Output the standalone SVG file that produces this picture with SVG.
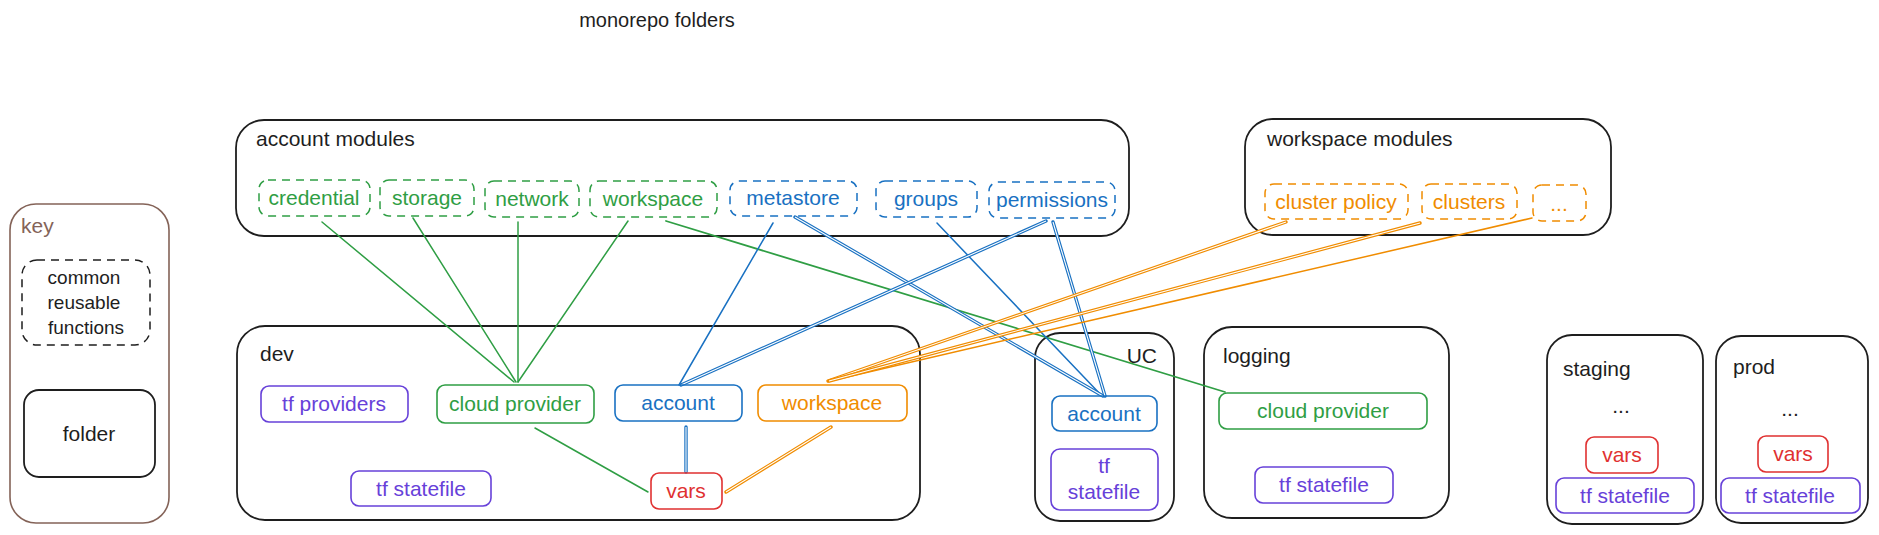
<svg xmlns="http://www.w3.org/2000/svg" width="1879" height="535" viewBox="0 0 1879 535">
<style>
text{font-family:"Liberation Sans",Arial,sans-serif;font-size:21px;fill:#1e1e1e}
.c{text-anchor:middle}
.e{text-anchor:end}
.box{fill:none;stroke:#1e1e1e;stroke-width:1.8}
.dash{fill:none;stroke-width:1.5;stroke-dasharray:8 6}
.nd{fill:none;stroke-width:1.6}
.g{stroke:#2f9e44}.gt{fill:#2f9e44}
.b{stroke:#1971c2}.bt{fill:#1971c2}
.o{stroke:#f08c00}.ot{fill:#f08c00}
.r{stroke:#e03131}.rt{fill:#e03131}
.v{stroke:#6741d9}.vt{fill:#6741d9}
.k{stroke:#1e1e1e}
.ln{fill:none;stroke-width:1.5;stroke-linecap:round}
.dbl{fill:none;stroke-width:3.4;stroke-linecap:round}
.in{fill:none;stroke:#fff;stroke-width:1.1}
</style>

<text id="title" x="657" y="27" class="c" style="font-size:20px">monorepo folders</text>

<g id="key">
<rect x="10" y="204" width="159" height="319" rx="26" fill="none" stroke="#846358" stroke-width="1.6"/>
<text x="21" y="233" style="fill:#846358">key</text>
<g id="key-common">
<rect x="22" y="260" width="128" height="85" rx="15" class="dash k"/>
<text x="84" y="284" class="c" style="font-size:19px">common</text>
<text x="84" y="309" class="c" style="font-size:19px">reusable</text>
<text x="86" y="334" class="c" style="font-size:19px">functions</text>
</g>
<g id="key-folder">
<rect x="24" y="390" width="131" height="87" rx="15" class="box"/>
<text x="89" y="441" class="c">folder</text>
</g>
</g>

<g id="account-modules">
<rect x="236" y="120" width="893" height="116" rx="28" class="box"/>
<text x="256" y="146">account modules</text>
</g>
<g id="workspace-modules">
<rect x="1245" y="119" width="366" height="116" rx="28" class="box"/>
<text x="1267" y="146">workspace modules</text>
</g>
<g id="dev">
<rect x="237" y="326" width="683" height="194" rx="28" class="box"/>
<text x="260" y="361">dev</text>
</g>
<g id="uc">
<rect x="1035" y="333" width="139" height="188" rx="25" class="box"/>
<text x="1157" y="363" class="e">UC</text>
</g>
<g id="logging">
<rect x="1204" y="327" width="245" height="191" rx="28" class="box"/>
<text x="1223" y="363">logging</text>
</g>
<g id="staging">
<rect x="1547" y="335" width="156" height="189" rx="25" class="box"/>
<text x="1563" y="376">staging</text>
<text x="1621" y="413" class="c">...</text>
</g>
<g id="prod">
<rect x="1716" y="336" width="152" height="187" rx="25" class="box"/>
<text x="1733" y="374">prod</text>
<text x="1790" y="416" class="c">...</text>
</g>

<g id="connectors">
<line x1="322" y1="222" x2="514" y2="382" class="ln g"/>
<line x1="413" y1="218" x2="516" y2="382" class="ln g"/>
<line x1="518" y1="222" x2="518" y2="382" class="ln g"/>
<line x1="628" y1="221" x2="518" y2="382" class="ln g"/>
<line x1="666" y1="221" x2="1225" y2="392" class="ln g" style="stroke-width:1.8"/>
<line x1="535" y1="428" x2="648" y2="492" class="ln g"/>

<line x1="773" y1="223" x2="679" y2="385" class="ln b"/>
<line x1="937" y1="223" x2="1102" y2="396" class="ln b"/>
<line x1="795" y1="217" x2="1103" y2="396" class="dbl b"/>
<line x1="795" y1="217" x2="1103" y2="396" class="in"/>
<line x1="1046" y1="221" x2="681" y2="385" class="dbl b"/>
<line x1="1046" y1="221" x2="681" y2="385" class="in"/>
<line x1="1053" y1="222" x2="1105" y2="396" class="dbl b"/>
<line x1="1053" y1="222" x2="1105" y2="396" class="in"/>
<line x1="686" y1="427" x2="686" y2="472" class="dbl b"/>
<line x1="686" y1="427" x2="686" y2="472" class="in"/>

<line x1="1532" y1="218" x2="830" y2="381" class="ln o"/>
<line x1="1286" y1="222" x2="828" y2="381" class="dbl o"/>
<line x1="1286" y1="222" x2="828" y2="381" class="in"/>
<line x1="1420" y1="223" x2="829" y2="381" class="dbl o"/>
<line x1="1420" y1="223" x2="829" y2="381" class="in"/>
<line x1="831" y1="427" x2="726" y2="492" class="dbl o"/>
<line x1="831" y1="427" x2="726" y2="492" class="in"/>
</g>

<g id="credential"><rect x="259" y="180" width="111" height="36" rx="9" class="dash g"/><text x="314" y="205" class="c gt">credential</text></g>
<g id="storage"><rect x="380" y="180" width="94" height="36" rx="9" class="dash g"/><text x="427" y="205" class="c gt">storage</text></g>
<g id="network"><rect x="485" y="181" width="94" height="36" rx="9" class="dash g"/><text x="532" y="206" class="c gt">network</text></g>
<g id="mod-workspace"><rect x="590" y="181" width="127" height="36" rx="9" class="dash g"/><text x="653" y="206" class="c gt">workspace</text></g>
<g id="metastore"><rect x="730" y="181" width="127" height="35" rx="9" class="dash b"/><text x="793" y="205" class="c bt">metastore</text></g>
<g id="groups"><rect x="876" y="181" width="101" height="36" rx="9" class="dash b"/><text x="926" y="206" class="c bt">groups</text></g>
<g id="permissions"><rect x="989" y="182" width="126" height="36" rx="9" class="dash b"/><text x="1052" y="207" class="c bt">permissions</text></g>

<g id="cluster-policy"><rect x="1265" y="184" width="143" height="35" rx="9" class="dash o"/><text x="1336" y="209" class="c ot">cluster policy</text></g>
<g id="clusters"><rect x="1422" y="184" width="95" height="35" rx="9" class="dash o"/><text x="1469" y="209" class="c ot">clusters</text></g>
<g id="mod-more"><rect x="1533" y="185" width="53" height="36" rx="9" class="dash o"/><text x="1559" y="211" class="c ot">...</text></g>

<g id="dev-tf-providers"><rect x="261" y="386" width="147" height="36" rx="8" fill="#fff" class="nd v"/><text x="334" y="411" class="c vt">tf providers</text></g>
<g id="dev-cloud-provider"><rect x="437" y="385" width="157" height="38" rx="8" fill="#fff" class="nd g"/><text x="515" y="411" class="c gt">cloud provider</text></g>
<g id="dev-account"><rect x="615" y="385" width="127" height="36" rx="8" fill="#fff" class="nd b"/><text x="678" y="410" class="c bt">account</text></g>
<g id="dev-workspace"><rect x="758" y="385" width="149" height="36" rx="8" fill="#fff" class="nd o"/><text x="832" y="410" class="c ot">workspace</text></g>
<g id="dev-tf-statefile"><rect x="351" y="471" width="140" height="35" rx="8" fill="#fff" class="nd v"/><text x="421" y="496" class="c vt">tf statefile</text></g>
<g id="dev-vars"><rect x="651" y="473" width="71" height="36" rx="8" fill="#fff" class="nd r"/><text x="686" y="498" class="c rt">vars</text></g>

<g id="uc-account"><rect x="1052" y="396" width="105" height="35" rx="8" fill="#fff" class="nd b"/><text x="1104" y="421" class="c bt">account</text></g>
<g id="uc-tf-statefile"><rect x="1051" y="449" width="107" height="61" rx="9" fill="#fff" class="nd v"/><text x="1104" y="473" class="c vt">tf</text><text x="1104" y="499" class="c vt">statefile</text></g>

<g id="logging-cloud-provider"><rect x="1219" y="393" width="208" height="36" rx="8" fill="#fff" class="nd g"/><text x="1323" y="418" class="c gt">cloud provider</text></g>
<g id="logging-tf-statefile"><rect x="1255" y="467" width="138" height="36" rx="8" fill="#fff" class="nd v"/><text x="1324" y="492" class="c vt">tf statefile</text></g>

<g id="staging-vars"><rect x="1586" y="437" width="72" height="36" rx="8" fill="#fff" class="nd r"/><text x="1622" y="462" class="c rt">vars</text></g>
<g id="staging-tf-statefile"><rect x="1556" y="478" width="138" height="35" rx="8" fill="#fff" class="nd v"/><text x="1625" y="503" class="c vt">tf statefile</text></g>

<g id="prod-vars"><rect x="1758" y="436" width="70" height="36" rx="8" fill="#fff" class="nd r"/><text x="1793" y="461" class="c rt">vars</text></g>
<g id="prod-tf-statefile"><rect x="1721" y="478" width="139" height="35" rx="8" fill="#fff" class="nd v"/><text x="1790" y="503" class="c vt">tf statefile</text></g>
</svg>
